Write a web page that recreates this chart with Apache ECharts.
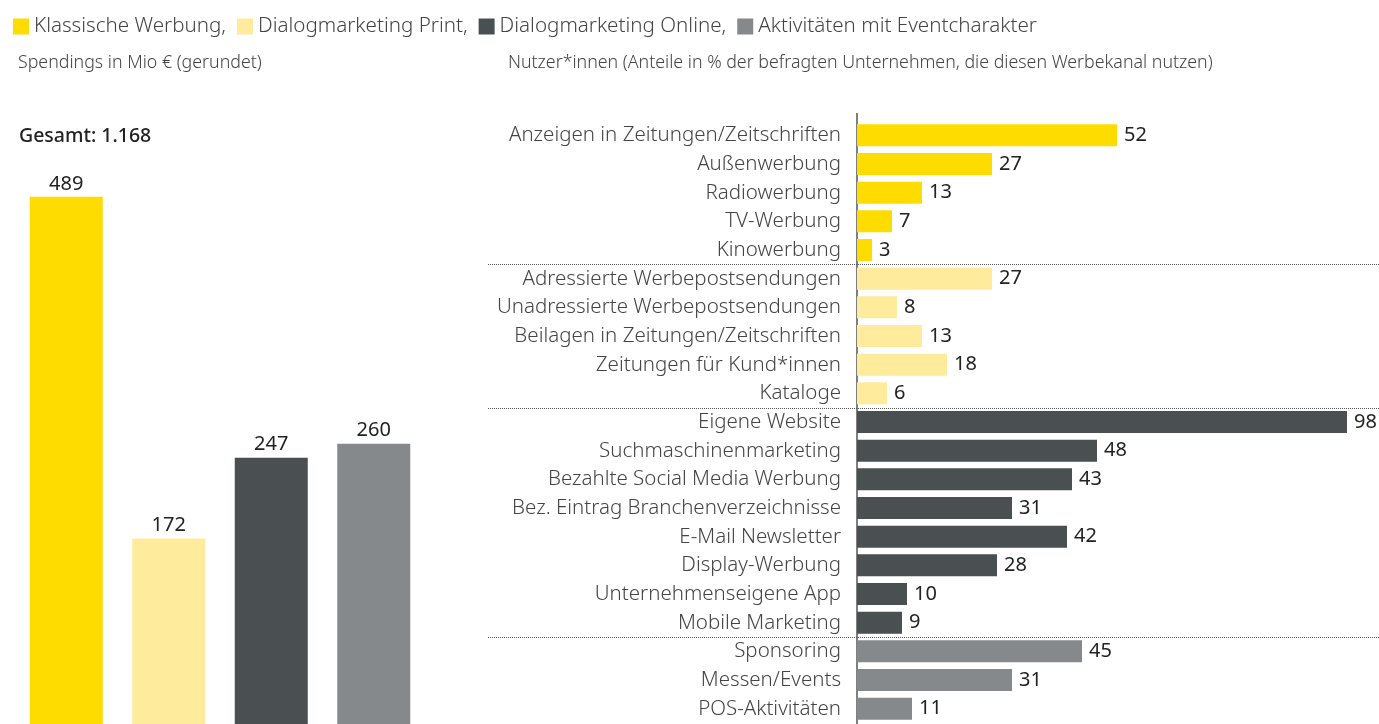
<!DOCTYPE html>
<html>
<head>
<meta charset="utf-8">
<script src="https://cdn.jsdelivr.net/npm/echarts@6/dist/echarts.min.js"></script>
<style>
  html, body { margin: 0; padding: 0; background: #fff; }
  #chart { width: 1379px; height: 724px; }
</style>
</head>
<body>
<div id="chart"></div>
<script>
// Gruppen (Legende + linke Säulen)
const groups = ['Klassische Werbung', 'Dialogmarketing Print', 'Dialogmarketing Online', 'Aktivitäten mit Eventcharakter']
const groupColors = ['#ffdc00', '#feeb9b', '#4a4f52', '#86898b']
const spendings = [489, 172, 247, 260]
const total = '1.168'

// rechte Seite: Werbekanäle je Gruppe
const klassischNames = ['Anzeigen in Zeitungen/Zeitschriften', 'Außenwerbung', 'Radiowerbung', 'TV-Werbung', 'Kinowerbung']
const klassischValues = [52, 27, 13, 7, 3]
const printNames = ['Adressierte Werbepostsendungen', 'Unadressierte Werbepostsendungen', 'Beilagen in Zeitungen/Zeitschriften', 'Zeitungen für Kund*innen', 'Kataloge']
const printValues = [27, 8, 13, 18, 6]
const onlineNames = ['Eigene Website', 'Suchmaschinenmarketing', 'Bezahlte Social Media Werbung', 'Bez. Eintrag Branchenverzeichnisse', 'E-Mail Newsletter', 'Display-Werbung', 'Unternehmenseigene App', 'Mobile Marketing']
const onlineValues = [98, 48, 43, 31, 42, 28, 10, 9]
const eventNames = ['Sponsoring', 'Messen/Events', 'POS-Aktivitäten']
const eventValues = [45, 31, 11]

const FONT = '"Noto Sans", Roboto, sans-serif'
const groupNames = [klassischNames, printNames, onlineNames, eventNames]
const groupValues = [klassischValues, printValues, onlineValues, eventValues]
const channels = [].concat(...groupNames)

// je Gruppe eine Reihe, übrige Kategorien leer ('-')
const rightSeriesData = groupValues.map((vals, g) => {
  const before = groupNames.slice(0, g).reduce((s, a) => s + a.length, 0)
  return channels.map((_, i) => (i >= before && i < before + vals.length) ? vals[i - before] : '-')
})
const leftSeriesData = spendings.map((v, g) => spendings.map((_, i) => i === g ? v : '-'))

const chart = echarts.init(document.getElementById('chart'))

const series = []
groups.forEach((name, g) => {
  series.push({
    name,
    type: 'bar',
    xAxisIndex: 0,
    yAxisIndex: 0,
    stack: 'left',
    data: leftSeriesData[g],
    barWidth: 73,
    itemStyle: { color: groupColors[g] },
    label: { show: true, position: 'top', distance: 3, color: '#222', fontSize: 20, fontFamily: FONT },
    silent: true
  })
  series.push({
    name,
    type: 'bar',
    xAxisIndex: 1,
    yAxisIndex: 1,
    stack: 'right',
    data: rightSeriesData[g],
    barWidth: 22,
    itemStyle: { color: groupColors[g] },
    label: { show: true, position: 'right', distance: 7, color: '#222', fontSize: 20, fontFamily: FONT },
    silent: true
  })
})

const option = {
  animation: false,
  textStyle: { fontFamily: FONT },
  legend: {
    left: 13,
    top: 16,
    padding: 0,
    itemWidth: 16,
    itemHeight: 16,
    itemGap: 11,
    icon: 'rect',
    selectedMode: false,
    data: groups,
    formatter: (name) => groups.indexOf(name) < groups.length - 1 ? name + ',' : name,
    textStyle: { fontSize: 20.6, color: '#444', fontWeight: 300, fontFamily: FONT, padding: [0, 0, 0, 0] }
  },
  title: [
    { text: 'Spendings in Mio € (gerundet)', left: 18, top: 54, padding: 0,
      textStyle: { fontSize: 17.8, fontWeight: 300, color: '#444', fontFamily: FONT } },
    { text: 'Nutzer*innen (Anteile in % der befragten Unternehmen, die diesen Werbekanal nutzen)', left: 508, top: 54, padding: 0,
      textStyle: { fontSize: 17.8, fontWeight: 300, color: '#444', fontFamily: FONT } },
    { text: 'Gesamt: ' + total, left: 19, top: 126, padding: 0,
      textStyle: { fontSize: 19.5, fontWeight: 500, color: '#222', fontFamily: FONT } }
  ],
  grid: [
    { left: 15, width: 410, top: 185, height: 541 },
    { left: 857, width: 500, top: 121, height: 602 }
  ],
  xAxis: [
    { gridIndex: 0, type: 'category', data: groups, show: false },
    { gridIndex: 1, type: 'value', min: 0, max: 100, show: false }
  ],
  yAxis: [
    { gridIndex: 0, type: 'value', min: 0, max: 500, show: false },
    {
      gridIndex: 1,
      type: 'category',
      data: channels,
      inverse: true,
      axisLine: { show: false },
      axisTick: { show: false },
      axisLabel: { margin: 16, fontSize: 20.5, color: '#444', fontWeight: 300, fontFamily: FONT }
    }
  ],
  series
}

chart.setOption(option)

// Trennlinien zwischen den Gruppen und durchgehende Achslinie
const graphics = []
const x0 = chart.convertToPixel({ xAxisIndex: 1 }, 0)
graphics.push({
  type: 'line', silent: true,
  shape: { x1: x0, y1: 113, x2: x0, y2: 724 },
  style: { stroke: '#555', lineWidth: 1.5 }
})
let idx = 0
groupNames.slice(0, -1).forEach((names) => {
  idx += names.length
  const y = (chart.convertToPixel({ yAxisIndex: 1 }, channels[idx - 1]) + chart.convertToPixel({ yAxisIndex: 1 }, channels[idx])) / 2
  graphics.push({
    type: 'line', silent: true,
    shape: { x1: 488, y1: Math.round(y) + 0.5, x2: 1379, y2: Math.round(y) + 0.5 },
    style: { stroke: '#555', lineWidth: 1, lineDash: [1, 1] }
  })
})
chart.setOption({ graphic: graphics })
</script>
</body>
</html>
